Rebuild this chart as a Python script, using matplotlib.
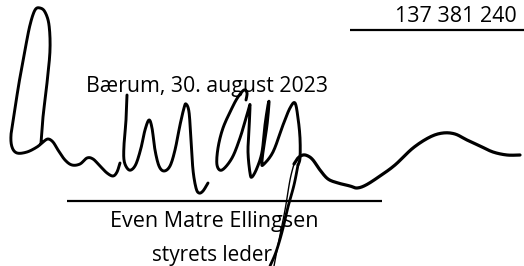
import numpy as np
import matplotlib
matplotlib.use("Agg")
import matplotlib.pyplot as plt

W, H = 524, 266

# ---- text content ----
amount_text = "137 381 240"
place_date_text = "Bærum, 30. august 2023"
name_text = "Even Matre Ellingsen"
title_text = "styrets leder"

# ---- signature strokes (pixel coordinates) ----
loop_wave_x = [41, 43, 47, 50, 49, 45, 40, 35, 30, 25, 19, 14, 11, 12, 17, 27, 37, 43, 48, 53, 58, 65, 72, 80, 87, 93, 100, 107, 113, 117, 120]
loop_wave_y = [143, 117, 83, 50, 25, 12, 8, 10, 25, 50, 83, 115, 135, 147, 153, 152, 147, 142, 139, 142, 150, 160, 165, 164, 158, 159, 166, 173, 176, 172, 163]

peaks_x = [127, 126, 124, 124, 127, 131, 136, 141, 145, 149, 152, 155, 159, 164, 170, 175, 180, 184, 186, 189, 191, 193, 196, 199, 203, 208]
peaks_y = [95, 120, 145, 160, 168, 170, 164, 148, 130, 120, 128, 150, 166, 171, 166, 150, 125, 108, 104, 112, 140, 170, 188, 193, 191, 183]

a_loop_x = [246, 247, 244, 238, 232, 223, 218, 217, 222, 232, 240, 246, 249, 250, 249, 248, 250, 252, 257, 262, 265, 268, 269, 267, 263, 262, 263, 273, 283, 290, 295, 298, 300, 300, 298]
a_loop_y = [100, 93, 90, 97, 108, 128, 148, 165, 170, 158, 138, 118, 108, 106, 130, 152, 173, 177, 168, 152, 125, 105, 103, 125, 152, 162, 165, 152, 125, 108, 103, 118, 138, 158, 165]

descender_x = [298, 294, 288, 282, 276, 270]
descender_y = [165, 185, 207, 232, 252, 266]

thin_x = [274, 279, 285, 290, 294]
thin_y = [266, 240, 210, 180, 164]

tail_x = [294, 298, 303, 308, 313, 320, 328, 338, 350, 357, 366, 380, 395, 413, 430, 443, 455, 467, 480, 493, 507, 520]
tail_y = [164, 158, 155, 156, 160, 170, 179, 183, 186, 188, 185, 176, 165, 148, 137, 133, 134, 140, 146, 152, 155, 155]


def smooth(xs, ys, n=12):
    """Catmull-Rom spline through the traced points (rendering only)."""
    p = np.column_stack([xs, ys]).astype(float)
    p = np.vstack([p[0], p, p[-1]])
    out = []
    t = np.linspace(0, 1, n, endpoint=False)
    for i in range(1, len(p) - 2):
        p0, p1, p2, p3 = p[i - 1], p[i], p[i + 1], p[i + 2]
        tt = t[:, None]
        seg = 0.5 * ((2 * p1) + (-p0 + p2) * tt + (2 * p0 - 5 * p1 + 4 * p2 - p3) * tt ** 2
                     + (-p0 + 3 * p1 - 3 * p2 + p3) * tt ** 3)
        out.append(seg)
    out.append(p[-2][None, :])
    s = np.vstack(out)
    return s[:, 0], s[:, 1]


fig = plt.figure(figsize=(W / 100, H / 100), dpi=100)
ax = fig.add_axes([0, 0, 1, 1])
ax.set_xlim(0, W)
ax.set_ylim(H, 0)
ax.axis("off")

FONT = ["Open Sans", "DejaVu Sans"]


def fit_text(x0, x1, y_base, s):
    t = ax.text(x0, y_base, s, ha="left", va="baseline", fontsize=17, family=FONT,
                color="black", zorder=2)
    fig.canvas.draw()
    bb = t.get_window_extent()
    target = x1 - x0
    t.set_fontsize(17 * target / bb.width)
    return t


fit_text(395, 517, 22, amount_text)
fit_text(86, 327, 92, place_date_text)
fit_text(110, 317, 227, name_text)
fit_text(152, 273, 261, title_text)

# rules
ax.plot([350, 524], [29.5, 29.5], color="black", lw=1.6, solid_capstyle="butt", zorder=1)
ax.plot([67, 382], [201, 201], color="black", lw=1.6, solid_capstyle="butt", zorder=1)

# signature
for xs, ys, lw in [(loop_wave_x, loop_wave_y, 2.1), (peaks_x, peaks_y, 2.1),
                   (a_loop_x, a_loop_y, 2.1), (descender_x, descender_y, 2.0), (thin_x, thin_y, 1.0),
                   (tail_x, tail_y, 2.3)]:
    sx, sy = smooth(xs, ys)
    ax.plot(sx, sy, color="black", lw=lw, solid_capstyle="round", solid_joinstyle="round", zorder=3)

fig.savefig("out.png", dpi=100, facecolor="white")
